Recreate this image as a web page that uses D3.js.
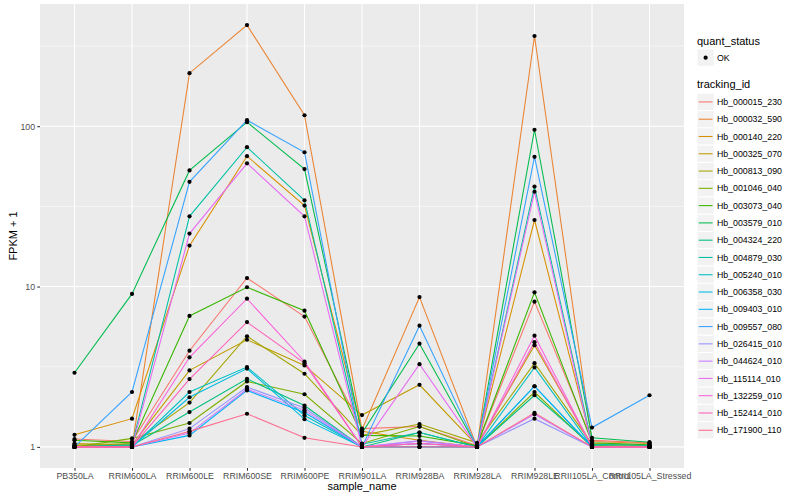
<!DOCTYPE html>
<html>
<head>
<meta charset="utf-8">
<script src="https://cdn.jsdelivr.net/npm/d3@7"></script>
<style>
  html, body { margin: 0; padding: 0; background: #fff; }
  svg { display: block; font-family: "Liberation Sans", Arial, Helvetica, sans-serif; }
</style>
</head>
<body>
<svg id="chart" width="800" height="500"></svg>
<script>
// ---- data ----
const samples = ["PB350LA", "RRIM600LA", "RRIM600LE", "RRIM600SE", "RRIM600PE", "RRIM901LA",
                 "RRIM928BA", "RRIM928LA", "RRIM928LE", "RRII105LA_Control", "RRII105LA_Stressed"];

const trackingIds = ["Hb_000015_230", "Hb_000032_590", "Hb_000140_220", "Hb_000325_070", "Hb_000813_090",
                     "Hb_001046_040", "Hb_003073_040", "Hb_003579_010", "Hb_004324_220", "Hb_004879_030",
                     "Hb_005240_010", "Hb_006358_030", "Hb_009403_010", "Hb_009557_080", "Hb_026415_010",
                     "Hb_044624_010", "Hb_115114_010", "Hb_132259_010", "Hb_152414_010", "Hb_171900_110"];

// FPKM + 1, one row per tracking_id, one column per sample
const fpkmPlusOne = [
  [1.12, 1.08, 3.98, 11.3, 6.5, 1.30, 1.34, 1.02, 8.05, 1.10, 1.06],
  [1.03, 1.00, 214, 427, 117, 1.28, 8.6, 1.00, 365, 1.08, 1.05],
  [1.19, 1.50, 18.0, 65, 32, 1.25, 1.10, 1.00, 26, 1.05, 1.02],
  [1.05, 1.03, 3.00, 4.66, 3.22, 1.58, 2.44, 1.02, 4.3, 1.02, 1.00],
  [1.02, 1.05, 1.89, 4.9, 2.86, 1.18, 1.39, 1.06, 3.33, 1.04, 1.02],
  [1.00, 1.13, 1.41, 2.56, 2.13, 1.05, 1.34, 1.00, 2.2, 1.00, 1.00],
  [1.10, 1.06, 6.56, 9.9, 7.07, 1.18, 1.17, 1.02, 9.2, 1.06, 1.03],
  [2.90, 9.00, 53, 106, 54, 1.22, 4.4, 1.00, 95, 1.14, 1.07],
  [1.00, 1.02, 1.65, 2.66, 1.81, 1.00, 1.23, 1.00, 2.1, 1.02, 1.00],
  [1.00, 1.03, 27.4, 74, 34.5, 1.04, 1.23, 1.00, 42, 1.04, 1.02],
  [1.00, 1.00, 2.20, 3.15, 1.57, 1.00, 1.00, 1.00, 3.13, 1.00, 1.00],
  [1.00, 1.00, 2.04, 3.08, 1.49, 1.00, 1.05, 1.00, 2.39, 1.00, 1.00],
  [1.00, 1.00, 1.18, 2.25, 1.64, 1.00, 1.00, 1.00, 2.39, 1.00, 1.00],
  [1.00, 2.20, 45, 109, 68.8, 1.00, 5.7, 1.00, 64.4, 1.32, 2.10],
  [1.00, 1.00, 1.30, 2.36, 1.75, 1.00, 1.09, 1.00, 1.50, 1.00, 1.00],
  [1.00, 1.00, 1.22, 2.29, 1.69, 1.00, 1.09, 1.00, 1.60, 1.00, 1.00],
  [1.00, 1.00, 21.4, 58.7, 27.4, 1.00, 3.28, 1.00, 39, 1.00, 1.00],
  [1.00, 1.00, 3.62, 8.4, 3.41, 1.00, 1.05, 1.00, 4.94, 1.00, 1.00],
  [1.00, 1.00, 2.65, 6.0, 3.33, 1.00, 1.05, 1.00, 4.5, 1.00, 1.00],
  [1.00, 1.00, 1.25, 1.61, 1.14, 1.00, 1.00, 1.00, 1.63, 1.00, 1.00]
];

const yTicks = [1, 10, 100];
const yMinorTicks = [Math.sqrt(10), Math.sqrt(1000), Math.sqrt(100000)];
const quantStatus = ["OK"];

// ---- style ----
const palette = ["#F8766D", "#EA8331", "#D89000", "#C09B00", "#A3A500", "#7CAE00", "#39B600", "#00BB4E",
                 "#00BF7D", "#00C1A3", "#00BFC4", "#00BAE0", "#00B0F6", "#35A2FF", "#9590FF", "#C77CFF",
                 "#E76BF3", "#FA62DB", "#FF62BC", "#FF6C91"];

const panel = { left: 40, right: 684, top: 4, bottom: 468 };
const svg = d3.select("#chart");

// scales
const x = d3.scalePoint().domain(samples).range([panel.left, panel.right]).padding(0.6);

const allVals = fpkmPlusOne.flat();
const lmin = Math.log10(d3.min(allVals)), lmax = Math.log10(d3.max(allVals));
const ex = (lmax - lmin) * 0.05;
const y = d3.scaleLog().domain([Math.pow(10, lmin - ex), Math.pow(10, lmax + ex)])
  .range([panel.bottom, panel.top]);

const color = d3.scaleOrdinal().domain(trackingIds).range(palette);

// panel background
svg.append("rect")
  .attr("x", panel.left).attr("y", panel.top)
  .attr("width", panel.right - panel.left).attr("height", panel.bottom - panel.top)
  .attr("fill", "#EBEBEB");

// grid
const grid = svg.append("g");
grid.selectAll(".ymin").data(yMinorTicks.filter(v => y(v) >= panel.top && y(v) <= panel.bottom))
  .join("line")
  .attr("x1", panel.left).attr("x2", panel.right)
  .attr("y1", d => y(d)).attr("y2", d => y(d))
  .attr("stroke", "#fff").attr("stroke-width", 0.55);
grid.selectAll(".ymaj").data(yTicks).join("line")
  .attr("x1", panel.left).attr("x2", panel.right)
  .attr("y1", d => y(d)).attr("y2", d => y(d))
  .attr("stroke", "#fff").attr("stroke-width", 1.07);
grid.selectAll(".xmaj").data(samples).join("line")
  .attr("x1", d => x(d)).attr("x2", d => x(d))
  .attr("y1", panel.top).attr("y2", panel.bottom)
  .attr("stroke", "#fff").attr("stroke-width", 1.07);

// lines
const series = trackingIds.map((id, i) => ({
  id, values: samples.map((s, j) => ({ s, v: fpkmPlusOne[i][j] }))
}));
const line = d3.line().x(d => x(d.s)).y(d => y(d.v));
const clip = svg.append("clipPath").attr("id", "pclip").append("rect")
  .attr("x", panel.left).attr("y", panel.top)
  .attr("width", panel.right - panel.left).attr("height", panel.bottom - panel.top);
const plot = svg.append("g").attr("clip-path", "url(#pclip)");
plot.selectAll(".series").data(series).join("path")
  .attr("d", d => line(d.values))
  .attr("fill", "none")
  .attr("stroke", d => color(d.id))
  .attr("stroke-width", 1.07);

// points
plot.selectAll(".pt").data(series.flatMap(d => d.values)).join("circle")
  .attr("cx", d => x(d.s)).attr("cy", d => y(d.v))
  .attr("r", 2.1).attr("fill", "#000");

// axes
const axisG = svg.append("g");
const yAxis = d3.axisLeft(y).tickValues(yTicks).tickFormat(d3.format("d")).tickSize(2.75).tickPadding(2.2);
const ya = axisG.append("g").attr("transform", `translate(${panel.left},0)`).call(yAxis);
const xAxis = d3.axisBottom(x).tickSize(2.75).tickPadding(2.2);
const xa = axisG.append("g").attr("transform", `translate(0,${panel.bottom})`).call(xAxis);
[ya, xa].forEach(g => {
  g.select(".domain").remove();
  g.selectAll(".tick line").attr("stroke", "#333333").attr("stroke-width", 1.07);
  g.selectAll(".tick text").attr("fill", "#4D4D4D").attr("font-size", "8.8px")
    .attr("font-family", "\"Liberation Sans\", Arial, sans-serif");
});

// axis titles
svg.append("text").attr("x", (panel.left + panel.right) / 2).attr("y", 490)
  .attr("text-anchor", "middle").attr("font-size", "11px").attr("fill", "#000").text("sample_name");
svg.append("text").attr("transform", `translate(17,${(panel.top + panel.bottom) / 2}) rotate(-90)`)
  .attr("text-anchor", "middle").attr("font-size", "11px").attr("fill", "#000").text("FPKM + 1");

// legend
const lg = svg.append("g");
const lx = 697, ks = 17.28;
lg.append("text").attr("x", lx).attr("y", 44.5).attr("font-size", "11px").attr("fill", "#000").text("quant_status");
quantStatus.forEach((q, i) => {
  const ky = 49 + i * ks;
  lg.append("rect").attr("x", lx).attr("y", ky).attr("width", ks).attr("height", ks)
    .attr("fill", "#F2F2F2").attr("stroke", "#fff").attr("stroke-width", 1);
  lg.append("circle").attr("cx", lx + ks / 2).attr("cy", ky + ks / 2).attr("r", 2.1).attr("fill", "#000");
  lg.append("text").attr("x", lx + ks + 2.6).attr("y", ky + ks / 2 + 3.1)
    .attr("font-size", "8.8px").attr("fill", "#000").text(q);
});
lg.append("text").attr("x", lx).attr("y", 88).attr("font-size", "11px").attr("fill", "#000").text("tracking_id");
const items = lg.selectAll(".item").data(trackingIds).join("g")
  .attr("transform", (d, i) => `translate(${lx},${93.3 + i * ks})`);
items.append("rect").attr("width", ks).attr("height", ks)
  .attr("fill", "#F2F2F2").attr("stroke", "#fff").attr("stroke-width", 1);
items.append("line").attr("x1", 1.7).attr("x2", ks - 1.7).attr("y1", ks / 2).attr("y2", ks / 2)
  .attr("stroke", d => color(d)).attr("stroke-width", 1.07);
items.append("text").attr("x", ks + 2.6).attr("y", ks / 2 + 3.1)
  .attr("font-size", "8.8px").attr("fill", "#000").text(d => d);
</script>
</body>
</html>
